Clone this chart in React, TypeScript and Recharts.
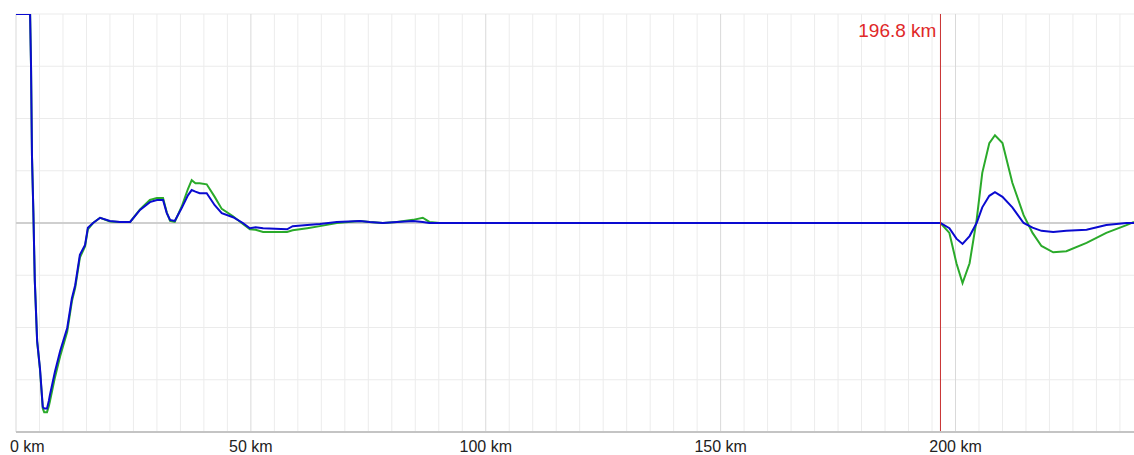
import React from "react";
import {
  LineChart,
  Line,
  XAxis,
  YAxis,
  CartesianGrid,
  ReferenceLine,
} from "recharts";

// Distance along the trace, km
const distanceKm = [
  0, 3.0, 3.2, 3.4, 3.7, 4.0, 4.5, 5.1, 5.7, 6.0, 6.6, 7.0, 7.2, 8.3, 9.4,
  10.9, 11.9, 12.6, 13.6, 14.7, 15.3, 16.4, 17.9, 20.0, 22.1, 24.3, 26.4,
  28.5, 30.0, 31.3, 32.1, 32.8, 33.8, 35.3, 36.6, 37.4, 38.2, 39.1, 40.6,
  42.3, 43.8, 46.2, 48.3, 49.8, 51.0, 52.6, 57.7, 58.9, 62.0, 64.7, 68.3,
  73.2, 75.3, 78.1, 81.1, 84.5, 86.6, 88.0, 90.2, 120.0, 150.0, 180.0, 196.8,
  198.7, 200.2, 201.5, 203.0, 204.5, 205.7, 207.2, 208.4, 210.0, 212.1,
  214.5, 216.4, 218.3, 220.8, 223.6, 227.9, 232.1, 236.4, 238.0,
];

// Trace B (blue)
const traceB = [
  4, 4, 3.0, 1.28, 0.2, -1.1, -2.26, -2.78, -3.52, -3.55, -3.55, -3.4, -3.3,
  -2.84, -2.45, -2.01, -1.44, -1.19, -0.61, -0.42, -0.09, 0, 0.1, 0.04, 0.02,
  0.02, 0.25, 0.4, 0.44, 0.44, 0.19, 0.06, 0.04, 0.29, 0.53, 0.63, 0.6, 0.57,
  0.57, 0.34, 0.19, 0.11, 0.0, -0.1, -0.08, -0.1, -0.12, -0.06, -0.04, -0.02,
  0.02, 0.04, 0.02, 0.0, 0.02, 0.04, 0.02, 0.0, 0.0, 0.0, 0.0, 0.0, 0.0,
  -0.1, -0.3, -0.4, -0.25, 0.0, 0.3, 0.52, 0.59, 0.5, 0.3, 0.0, -0.09, -0.15,
  -0.17, -0.15, -0.13, -0.04, 0.0, 0.0,
];

// Trace A (green)
const traceA = [
  4, 4, 3.0, 1.3, 0.2, -1.1, -2.26, -2.8, -3.55, -3.62, -3.62, -3.5, -3.42,
  -2.95, -2.55, -2.08, -1.5, -1.24, -0.66, -0.45, -0.12, 0, 0.1, 0.03, 0.02,
  0.02, 0.26, 0.44, 0.48, 0.48, 0.2, 0.04, 0.02, 0.32, 0.65, 0.82, 0.76, 0.76,
  0.74, 0.5, 0.27, 0.13, -0.02, -0.12, -0.13, -0.17, -0.17, -0.14, -0.1,
  -0.06, 0.0, 0.04, 0.02, 0.0, 0.02, 0.06, 0.1, 0.02, 0.0, 0.0, 0.0, 0.0, 0.0,
  -0.19, -0.77, -1.15, -0.77, 0.06, 0.96, 1.53, 1.68, 1.53, 0.77, 0.15, -0.19,
  -0.44, -0.56, -0.54, -0.38, -0.19, -0.04, 0.02,
];

const xTicks = [0, 50, 100, 150, 200];
const minorX = Array.from({ length: 48 }, (_, i) => i * 5);
const yTicks = [-4, -3, -2, -1, 0, 1, 2, 3, 4];
const markerKm = 196.8;

const chartData = distanceKm.map((km, i) => ({
  km,
  a: traceA[i],
  b: traceB[i],
}));

const FONT = "'Liberation Sans', Arial, sans-serif";

const KmTick = ({ x, y, payload }: any) => {
  const first = payload.value === 0;
  return (
    <text
      x={first ? x - 6 : x}
      y={y + 12}
      textAnchor={first ? "start" : "middle"}
      fontFamily={FONT}
      fontSize={16}
      fill="#222"
    >
      {payload.value} km
    </text>
  );
};

const MarkerLabel = ({ viewBox }: any) => (
  <text
    x={viewBox.x - 4}
    y={viewBox.y + 23}
    textAnchor="end"
    fontFamily={FONT}
    fontSize={19}
    fill="#e02828"
  >
    {markerKm} km
  </text>
);

export default function App() {
  return (
    <div style={{ position: "absolute", left: 0, top: 0, background: "#fff" }}>
      <LineChart
        width={1134}
        height={455}
        data={chartData}
        margin={{ top: 14, right: 0, left: 16, bottom: 0 }}
      >
        <CartesianGrid vertical={false} stroke="#ebebeb" strokeWidth={1} />
        {minorX.map((v) => (
          <ReferenceLine
            key={v}
            x={v}
            stroke={v % 50 === 0 ? "#d9d9d9" : "#ececec"}
            strokeWidth={1}
          />
        ))}
        <ReferenceLine y={0} stroke="#cfcfcf" strokeWidth={2} />
        <XAxis
          dataKey="km"
          type="number"
          domain={[0, 238]}
          ticks={xTicks}
          interval={0}
          tickLine={false}
          axisLine={{ stroke: "#c4c4c4", strokeWidth: 2 }}
          tick={<KmTick />}
          height={23}
          allowDataOverflow
        />
        <YAxis hide domain={[-4, 4]} ticks={yTicks} allowDataOverflow />
        <Line
          type="linear"
          dataKey="a"
          stroke="#2aaa2a"
          strokeWidth={2}
          dot={false}
          isAnimationActive={false}
        />
        <Line
          type="linear"
          dataKey="b"
          stroke="#0a0ad0"
          strokeWidth={2}
          dot={false}
          isAnimationActive={false}
        />
        <ReferenceLine
          x={markerKm}
          stroke="#c83030"
          strokeWidth={1}
          label={<MarkerLabel />}
        />
      </LineChart>
    </div>
  );
}
